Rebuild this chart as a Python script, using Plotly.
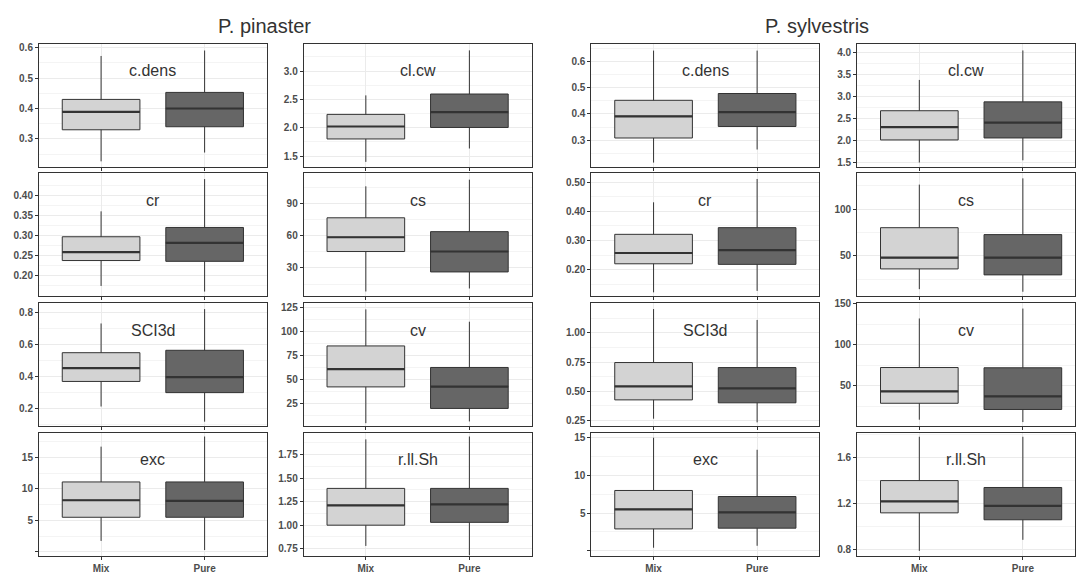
import plotly.graph_objects as go

W, H = 1076, 577

groups = ["P. pinaster", "P. sylvestris"]
variables = ["c.dens", "cl.cw", "cr", "cs", "SCI3d", "cv", "exc", "r.ll.Sh"]
stands = ["Mix", "Pure"]

# Five-number summaries per variable (same order as `variables`)
pin_mix_low = [0.226, 1.398, 0.175, 8.1, 0.212, 4.3, 1.75, 0.78]
pin_mix_q1 = [0.330, 1.802, 0.238, 45.3, 0.369, 42.2, 5.5, 1.00]
pin_mix_med = [0.389, 2.022, 0.259, 58.6, 0.452, 60.8, 8.2, 1.21]
pin_mix_q3 = [0.430, 2.236, 0.297, 76.7, 0.549, 85.0, 11.1, 1.39]
pin_mix_high = [0.573, 2.571, 0.360, 106.0, 0.732, 123.2, 16.7, 1.91]

pin_pure_low = [0.255, 1.634, 0.161, 10.9, 0.117, 6.1, 0.3, 0.68]
pin_pure_q1 = [0.340, 2.005, 0.236, 26.3, 0.299, 19.7, 5.5, 1.03]
pin_pure_med = [0.400, 2.276, 0.282, 45.3, 0.396, 42.5, 8.1, 1.22]
pin_pure_q3 = [0.453, 2.595, 0.320, 63.8, 0.564, 62.5, 11.1, 1.39]
pin_pure_high = [0.591, 3.365, 0.440, 112.2, 0.822, 110.3, 18.3, 1.94]

syl_mix_low = [0.214, 1.507, 0.122, 14.2, 0.266, 8.5, 0.4, 0.79]
syl_mix_q1 = [0.308, 2.020, 0.220, 35.9, 0.427, 28.6, 2.9, 1.12]
syl_mix_med = [0.391, 2.310, 0.257, 47.9, 0.542, 43.2, 5.5, 1.22]
syl_mix_q3 = [0.452, 2.683, 0.321, 80.1, 0.746, 72.3, 8.0, 1.40]
syl_mix_high = [0.642, 3.382, 0.431, 126.3, 1.203, 132.3, 15.0, 1.78]

syl_pure_low = [0.264, 1.558, 0.127, 11.4, 0.235, 5.6, 0.66, 0.886]
syl_pure_q1 = [0.352, 2.065, 0.218, 29.5, 0.402, 21.0, 3.0, 1.06]
syl_pure_med = [0.407, 2.415, 0.267, 47.9, 0.525, 37.1, 5.1, 1.18]
syl_pure_q3 = [0.478, 2.884, 0.344, 72.7, 0.703, 72.0, 7.2, 1.34]
syl_pure_high = [0.642, 4.051, 0.511, 133.0, 1.110, 144.4, 13.4, 1.78]

# y-axis ranges and tick labels per variable
pin_ranges = [[0.209, 0.614], [1.316, 3.486], [0.149, 0.454], [3.5, 118.0],
              [0.088, 0.858], [1.0, 129.5], [-0.6, 18.9], [0.676, 1.98]]
syl_ranges = [[0.199, 0.669], [1.417, 4.208], [0.108, 0.530], [6.4, 138.3],
              [0.201, 1.252], [0.4, 150.8], [-0.66, 15.66], [0.748, 1.815]]

pin_ticktext = [["0.3", "0.4", "0.5", "0.6"], ["1.5", "2.0", "2.5", "3.0"],
                ["0.20", "0.25", "0.30", "0.35", "0.40"], ["30", "60", "90"],
                ["0.2", "0.4", "0.6", "0.8"], ["25", "50", "75", "100", "125"],
                ["", "5", "10", "15"], ["0.75", "1.00", "1.25", "1.50", "1.75"]]
syl_ticktext = [["0.3", "0.4", "0.5", "0.6"], ["1.5", "2.0", "2.5", "3.0", "3.5", "4.0"],
                ["0.20", "0.30", "0.40", "0.50"], ["50", "100"],
                ["0.25", "0.50", "0.75", "1.00"], ["50", "100", "150"],
                ["", "5", "10", "15"], ["0.8", "1.2", "1.6"]]
pin_tickvals = [[0.3, 0.4, 0.5, 0.6], [1.5, 2.0, 2.5, 3.0],
                [0.20, 0.25, 0.30, 0.35, 0.40], [30, 60, 90],
                [0.2, 0.4, 0.6, 0.8], [25, 50, 75, 100, 125],
                [0, 5, 10, 15], [0.75, 1.00, 1.25, 1.50, 1.75]]
syl_tickvals = [[0.3, 0.4, 0.5, 0.6], [1.5, 2.0, 2.5, 3.0, 3.5, 4.0],
                [0.20, 0.30, 0.40, 0.50], [50, 100],
                [0.25, 0.50, 0.75, 1.00], [50, 100, 150],
                [0, 5, 10, 15], [0.8, 1.2, 1.6]]

# Panel geometry in pixels
col_left = [39, 304, 592, 858]
col_width = 228
row_top = [39, 170.5, 302, 433]
row_height = 124.5
unit_px = col_width / 2.2

MIX_FILL = "#D3D3D3"
PURE_FILL = "#666666"
EDGE = "#333333"
GRID = "#EBEBEB"
MINOR = "#F4F4F4"
TEXT = "#4D4D4D"
FONT = "Liberation Sans, Arial, sans-serif"
BOX_W = 0.75

group_data = [
    dict(mix=(pin_mix_low, pin_mix_q1, pin_mix_med, pin_mix_q3, pin_mix_high),
         pure=(pin_pure_low, pin_pure_q1, pin_pure_med, pin_pure_q3, pin_pure_high),
         ranges=pin_ranges, tickvals=pin_tickvals, ticktext=pin_ticktext),
    dict(mix=(syl_mix_low, syl_mix_q1, syl_mix_med, syl_mix_q3, syl_mix_high),
         pure=(syl_pure_low, syl_pure_q1, syl_pure_med, syl_pure_q3, syl_pure_high),
         ranges=syl_ranges, tickvals=syl_tickvals, ticktext=syl_ticktext),
]

fig = go.Figure()
layout = {}
annotations = []

n = 0
for g, gd in enumerate(group_data):
    for vi, var in enumerate(variables):
        n += 1
        row = vi // 2
        col = g * 2 + vi % 2
        left = col_left[col]
        right = min(left + col_width, W)
        top = row_top[row]
        bottom = top + row_height
        xmax = 0.4 + (right - left) / unit_px
        xa = "x" if n == 1 else f"x{n}"
        ya = "y" if n == 1 else f"y{n}"
        xkey = "xaxis" if n == 1 else f"xaxis{n}"
        ykey = "yaxis" if n == 1 else f"yaxis{n}"

        for pos, (stand, stats, fill) in enumerate(
                [("Mix", gd["mix"], MIX_FILL), ("Pure", gd["pure"], PURE_FILL)], start=1):
            lo, q1, med, q3, hi = (s[vi] for s in stats)
            fig.add_trace(go.Box(
                x=[pos], q1=[q1], median=[med], q3=[q3],
                lowerfence=[lo], upperfence=[hi],
                width=BOX_W, fillcolor=fill, whiskerwidth=0,
                line=dict(color=EDGE, width=1), boxpoints=False,
                name=stand, showlegend=False, hoverinfo="skip",
                xaxis=xa, yaxis=ya,
            ))
            # thicker median bar
            fig.add_trace(go.Scatter(
                x=[pos - BOX_W / 2, pos + BOX_W / 2], y=[med, med],
                mode="lines", line=dict(color=EDGE, width=2.2),
                showlegend=False, hoverinfo="skip", xaxis=xa, yaxis=ya,
            ))

        tv = gd["tickvals"][vi]
        step = tv[-1] - tv[-2]
        minor_vals = [v - step / 2 for v in tv] + [tv[-1] + step / 2]

        layout[xkey] = dict(
            domain=[left / W, right / W], anchor=ya, range=[0.4, xmax],
            tickvals=[1, 2], ticktext=stands, showticklabels=(row == 3),
            ticks="outside", ticklen=3, tickcolor=EDGE, tickwidth=1,
            tickfont=dict(family=FONT, size=10, color=TEXT, weight="bold"),
            showgrid=True, gridcolor=GRID, gridwidth=1, zeroline=False,
            showline=True, linecolor=EDGE, linewidth=1, mirror=True,
            fixedrange=True,
        )
        layout[ykey] = dict(
            domain=[1 - bottom / H, 1 - top / H], anchor=xa,
            range=gd["ranges"][vi], tickvals=tv, ticktext=gd["ticktext"][vi],
            ticks="outside", ticklen=3, tickcolor=EDGE, tickwidth=1,
            tickfont=dict(family=FONT, size=10, color=TEXT, weight="bold"),
            showgrid=True, gridcolor=GRID, gridwidth=1, zeroline=False,
            minor=dict(tickvals=minor_vals, showgrid=True, gridcolor=MINOR,
                       gridwidth=1, ticks=""),
            showline=True, linecolor=EDGE, linewidth=1, mirror=True,
            fixedrange=True,
        )
        annotations.append(dict(
            text=var, xref=f"{xa} domain", yref=f"{ya} domain",
            x=0.5, y=1 - 27 / row_height, xanchor="center", yanchor="middle",
            showarrow=False, font=dict(family=FONT, size=16, color="#333333"),
        ))

for title, cx in zip(groups, [265, 818]):
    annotations.append(dict(
        text=title, xref="paper", yref="paper", x=cx / W, y=1 - 21 / H,
        xanchor="center", yanchor="middle", showarrow=False,
        font=dict(family=FONT, size=20, color="#333333"),
    ))

fig.update_layout(
    width=W, height=H, margin=dict(l=0, r=0, t=0, b=0),
    paper_bgcolor="white", plot_bgcolor="white",
    annotations=annotations, showlegend=False, **layout,
)

fig.write_html("out.html", config={"displayModeBar": False})
